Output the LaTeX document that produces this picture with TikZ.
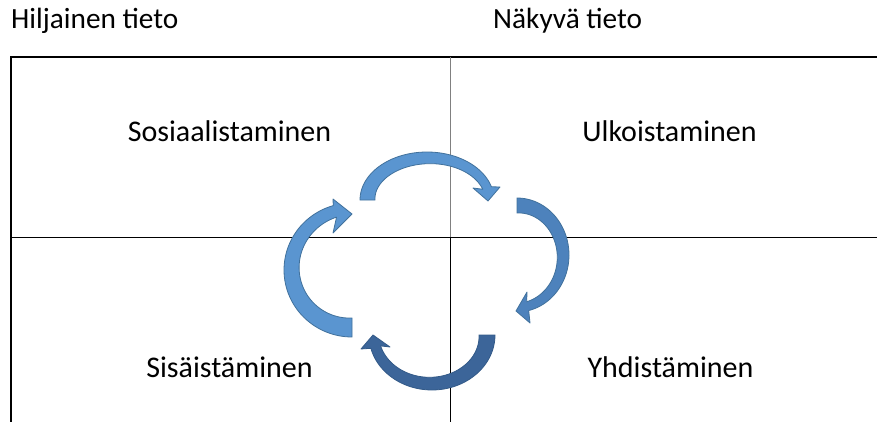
\documentclass[tikz,border=0pt]{standalone}
\usepackage{fontspec}
\setmainfont{Carlito}
\begin{document}
\begin{tikzpicture}[x=1pt,y=-1pt,
  lab/.style={anchor=base,inner sep=0pt,font=\fontsize{30}{36}\selectfont},
  hdr/.style={anchor=base west,inner sep=0pt,font=\fontsize{29.3}{35}\selectfont},
  outerline/.style={line width=1.4pt,black},
  innerline/.style={line width=0.8pt,black},
  arrowA/.style={fill=arrowlight,draw=arrowedge,line width=0.8pt,line join=round},
  arrowB/.style={fill=arrowmid,draw=arrowedge,line width=0.8pt,line join=round},
  arrowC/.style={fill=arrowdark,draw=arrowdarkedge,line width=0.8pt,line join=round}]
\definecolor{arrowlight}{HTML}{5A95D0}
\definecolor{arrowmid}{HTML}{4D82BC}
\definecolor{arrowdark}{HTML}{3C6599}
\definecolor{arrowedge}{HTML}{41719C}
\definecolor{arrowdarkedge}{HTML}{335A88}
\useasboundingbox (0,0) rectangle (877,422);
% frame
\coordinate (tl) at (11,57);
\coordinate (tr) at (877,57);
\coordinate (bl) at (11,422);
\coordinate (ml) at (11,237);
\coordinate (mr) at (877,237);
\coordinate (mt) at (450,57);
\coordinate (mm) at (450,237);
\coordinate (mb) at (450,422);
\draw[outerline] (bl) -- (tl) -- (tr);
\draw[innerline] (ml) -- (mr);
\draw[innerline,gray] (mt) -- (mm);
\draw[innerline] (mm) -- (mb);
% texts
\node[hdr] (h1) at (11,29) {Hiljainen tieto};
\node[hdr] (h2) at (493,29) {Näkyvä tieto};
\node[lab] (q1) at (229.5,142) {Sosiaalistaminen};
\node[lab] (q2) at (669.5,142) {Ulkoistaminen};
\node[lab] (q3) at (229.5,377) {Sisäistäminen};
\node[lab] (q4) at (670.5,377) {Yhdistäminen};
% top arrow
\path[arrowA] plot[domain=180:16,samples=60] ({427+67*cos(\x)},{200-48*sin(\x)})
  -- (500,187) -- (488,201) -- (473,188)
  -- plot[domain=16:180,samples=60] ({427+(67-(15-6*(180-\x)/164))*cos(\x)},{200-(48-(15-6*(180-\x)/164))*sin(\x)})
  -- cycle;
% right arrow
\path[arrowB] plot[domain=90:-77,samples=60] ({517+52*cos(\x)},{255-57*sin(\x)})
  -- (530,323) -- (516,311) -- (527,292)
  -- plot[domain=-77:90,samples=60] ({517+(52-(15-6*(90-\x)/167))*cos(\x)},{255-(57-(15-6*(90-\x)/167))*sin(\x)})
  -- cycle;
% bottom arrow
\path[arrowC] plot[domain=0:-166,samples=60] ({432+63*cos(\x)},{335-55*sin(\x)})
  -- (361,349) -- (373,335) -- (390,347)
  -- plot[domain=-166:0,samples=60] ({432+(63-(16-6*(0-\x)/166))*cos(\x)},{335-(55-(16-6*(0-\x)/166))*sin(\x)})
  -- cycle;
% left arrow
\path[arrowA] plot[domain=-90:-254,samples=60] ({352+68*cos(\x)},{270-67*sin(\x)})
  -- (333,199) -- (352,214) -- (333,233)
  -- plot[domain=-254:-90,samples=60] ({352+(68-(19-7*(-90-\x)/164))*cos(\x)},{270-(67-(19-7*(-90-\x)/164))*sin(\x)})
  -- cycle;
\end{tikzpicture}
\end{document}
